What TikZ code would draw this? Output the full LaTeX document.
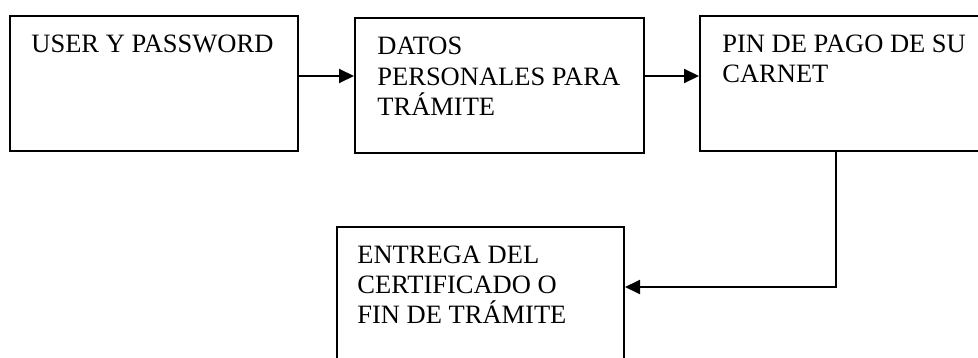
\documentclass[tikz,border=0pt]{standalone}
\usepackage{fontspec}
\setmainfont{Liberation Serif}
\usetikzlibrary{arrows.meta}
\begin{document}
\begin{tikzpicture}[x=0.5pt,y=-0.5pt,
  box/.style={draw=black,line width=1pt,rectangle,inner sep=0pt},
  lbl/.style={anchor=base west,inner sep=0pt,font=\fontsize{13.25}{15}\selectfont},
  arr/.style={line width=1pt,-{Triangle[length=7.5pt,width=7pt]}}]
\useasboundingbox (0,0) rectangle (978,358);
\begin{scope}
\clip (0,0) rectangle (978,358);
\node[box,minimum width=144pt,minimum height=67.5pt] (b1) at (154,83.5) {};
\node[box,minimum width=144.5pt,minimum height=67.5pt] (b2) at (499.5,85.5) {};
\node[box,minimum width=144pt,minimum height=67.5pt] (b3) at (844,83.5) {};
\node[box,minimum width=143.5pt,minimum height=67.5pt] (b4) at (480.5,294.5) {};
\end{scope}
\node[lbl] (t1) at (31,53) {USER Y PASSWORD};
\node[lbl] (t2) at (377,55) {\vtop{\hbox{DATOS}\hbox{PERSONALES PARA}\hbox{TRÁMITE}}};
\node[lbl] (t3) at (722,53) {\vtop{\hbox{PIN DE PAGO DE SU}\hbox{CARNET}}};
\node[lbl] (t4) at (357,263) {\vtop{\hbox{ENTREGA DEL}\hbox{CERTIFICADO O}\hbox{FIN DE TRÁMITE}}};
\draw[arr] ([yshift=3.75pt]b1.east) -- ([yshift=3.75pt]b1.east -| b2.west);
\draw[arr] ([yshift=4.75pt]b2.east) -- ([yshift=4.75pt]b2.east -| b3.west);
\draw[arr] ([xshift=-4pt]b3.south) |- ([yshift=3.75pt]b4.east);
\end{tikzpicture}
\end{document}
